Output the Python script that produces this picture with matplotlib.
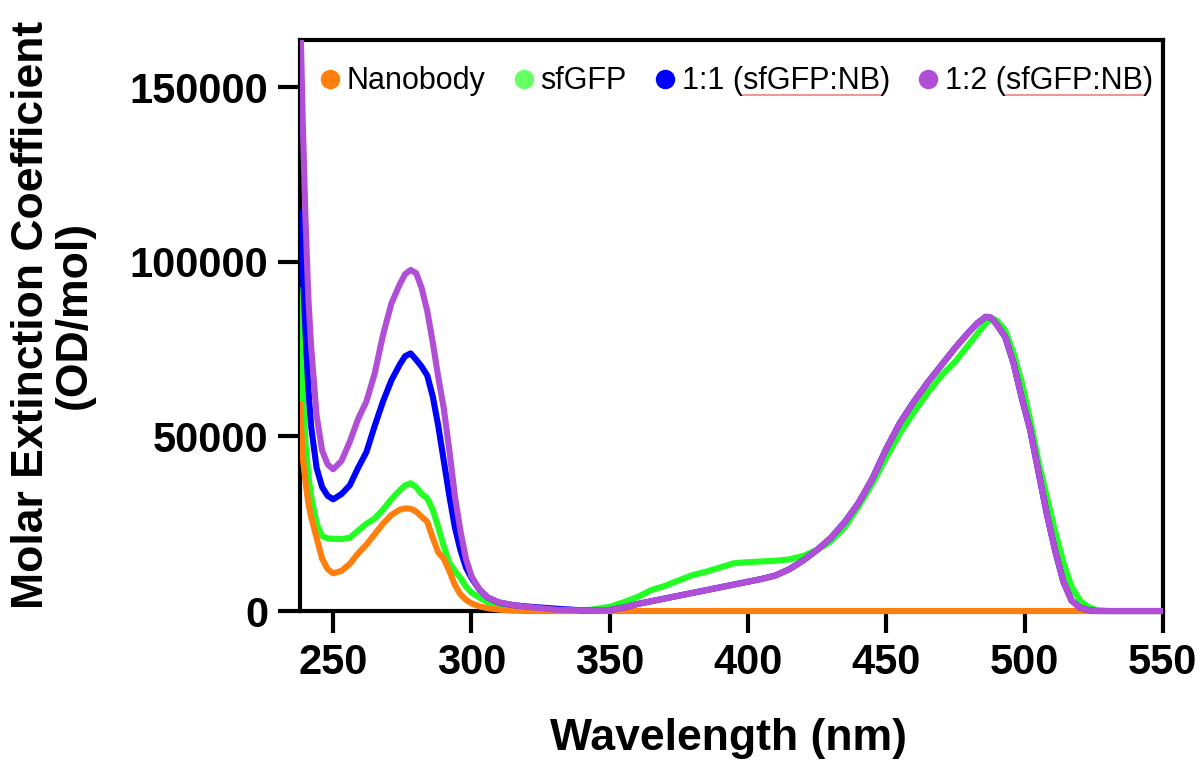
import numpy as np
import matplotlib
matplotlib.use('Agg')
import matplotlib.pyplot as plt
from matplotlib.lines import Line2D
from matplotlib.patches import Rectangle

plt.rcParams['font.family'] = ['Liberation Sans', 'DejaVu Sans']

# wavelength grid (nm)
wavelength = [238, 239, 240, 241, 242, 244, 246, 248, 250, 253, 256, 259, 262, 265, 268,
              271, 274, 276, 278, 280, 282, 284, 286, 288, 290, 292, 294, 296, 298, 300,
              303, 306, 310, 315, 320, 325, 330, 340, 350, 355, 360, 365, 370, 375, 380,
              385, 390, 395, 400, 405, 410, 415, 420, 425, 430, 435, 440, 445, 450, 455,
              460, 465, 470, 475, 480, 483, 486, 488, 490, 493, 496, 499, 502, 505, 508,
              511, 514, 517, 520, 523, 526, 530, 540, 550]

nanobody = [59000, 44000, 37000, 31000, 27000, 21000, 15000, 12000, 10800, 11500, 13500, 16500, 19000, 22000, 25000,
            27500, 29000, 29400, 29300, 28500, 27000, 25600, 21000, 16800, 15000, 11500, 7500, 4800, 3200, 2200,
            1300, 800, 400, 100, 0, 0, 0, 0, 0, 0, 0, 0, 0, 0, 0,
            0, 0, 0, 0, 0, 0, 0, 0, 0, 0, 0, 0, 0, 0, 0,
            0, 0, 0, 0, 0, 0, 0, 0, 0, 0, 0, 0, 0, 0, 0,
            0, 0, 0, 0, 0, 0, 0, 0, 0]

sfgfp = [92000, 62000, 48000, 39000, 33000, 25000, 21500, 20800, 20700, 20600, 21000, 23000, 25000, 26500, 29000,
         32000, 34500, 36000, 36600, 35500, 33500, 32300, 29000, 24000, 18500, 13800, 11500, 9500, 7000, 5300,
         3800, 2500, 1500, 600, 300, 100, 0, 0, 1200, 2500, 4000, 6000, 7200, 8800, 10300,
         11300, 12500, 13700, 14000, 14200, 14400, 14800, 15800, 17500, 20000, 24000, 30000, 36500, 44000, 51000,
         57000, 62500, 67500, 71500, 76500, 79500, 82500, 83800, 83200, 80500, 74000, 65500, 55000, 43000, 33000,
         23000, 14000, 7000, 3000, 1200, 300, 0, 0, 0]

nb_1to1 = [114000, 98000, 80000, 64000, 53000, 41000, 35500, 33000, 32000, 33500, 36000, 41000, 45500, 53000, 60000,
           66000, 70500, 73000, 73800, 72000, 70000, 67500, 61500, 53000, 43000, 33000, 24000, 17500, 12500, 9500,
           6000, 3800, 2400, 1700, 1300, 1000, 700, 200, 300, 1000, 2000, 2800, 3600, 4400, 5200,
           6000, 6800, 7600, 8400, 9200, 10200, 12000, 14500, 17500, 21000, 25500, 31000, 38000, 46500, 54000,
           60000, 65500, 70500, 75500, 80000, 82500, 84300, 84000, 82000, 78500, 71000, 61000, 52000, 40000, 28000,
           17500, 8500, 3000, 1000, 300, 0, 0, 0, 0]

nb_1to2 = [175000, 140000, 112000, 90000, 76000, 56000, 46000, 42000, 40600, 43000, 48500, 55000, 60000, 68000, 79000,
           88000, 93500, 96500, 97700, 96800, 92500, 86000, 77000, 67000, 58000, 46000, 33000, 23000, 15000, 10000,
           6000, 3800, 2500, 1700, 1200, 800, 400, 200, 300, 1000, 2000, 2800, 3600, 4400, 5200,
           6000, 6800, 7600, 8400, 9200, 10200, 12000, 14500, 17500, 21000, 25500, 31000, 38000, 46500, 54000,
           60000, 65500, 70500, 75500, 80000, 82500, 84300, 84000, 82000, 78500, 71000, 61000, 52000, 40000, 28000,
           17500, 8500, 3000, 1000, 300, 0, 0, 0, 0]

labels = ['Nanobody', 'sfGFP', '1:1 (sfGFP:NB)', '1:2 (sfGFP:NB)']
colors = ['#FF7F0E', '#22FF22', '#0000FF', '#B04FD6']
legend_colors = ['#FF7F0E', '#66FF66', '#0000FF', '#B04FD6']

fig = plt.figure(figsize=(12, 7.68), dpi=100)
ax = fig.add_axes([0.25, 0.2044, 0.719, 0.7436])

clip = Rectangle((0, -0.02), 1, 1.02, transform=ax.transAxes, visible=False)
ax.add_patch(clip)

# drawing order: sfGFP, nanobody, 1:1, 1:2 on top
series = [sfgfp, nanobody, nb_1to1, nb_1to2]
order = [1, 0, 2, 3]
for s, i in zip(series, order):
    ln, = ax.plot(wavelength, s, color=colors[i], lw=4.4, zorder=3)
    ln.set_clip_path(clip)

ax.set_xlim(238, 550)
ax.set_ylim(0, 163600)
ax.set_xticks([250, 300, 350, 400, 450, 500, 550])
ax.set_yticks([0, 50000, 100000, 150000])

for sp in ax.spines.values():
    sp.set_linewidth(3)
ax.tick_params(width=3, length=16, pad=7, labelsize=30)
for t in ax.get_xticklabels() + ax.get_yticklabels():
    t.set_fontweight('bold')

fig.text(0.607, 0.039, 'Wavelength (nm)', ha='center', va='center',
         fontsize=32, fontweight='bold')
fig.text(0.044, 0.59, 'Molar Extinction Coefficient\n(OD/mol)', ha='center', va='center',
         rotation=90, fontsize=32, fontweight='bold', multialignment='center', linespacing=1.05)

handles = [Line2D([], [], marker='o', ls='', color=c, markersize=13) for c in legend_colors]
leg = ax.legend(handles, labels, loc='upper left', bbox_to_anchor=(0.01, 0.975), ncol=4, frameon=False,
                fontsize=22, handlelength=0.6, handletextpad=0.25, columnspacing=0.95, borderaxespad=0)

# faint red spell-check underline under "sfGFP:NB" in the legend
fig.canvas.draw()
r = fig.canvas.get_renderer()
for t in leg.get_texts()[2:]:
    bb = t.get_window_extent(r)
    tmp = fig.text(0, 0, '1:1 (', fontsize=22)
    w0 = tmp.get_window_extent(r).width
    tmp.set_text(')')
    w1 = tmp.get_window_extent(r).width
    tmp.remove()
    x0 = (bb.x0 + w0) / fig.bbox.width
    x1 = (bb.x1 - w1) / fig.bbox.width
    yy = (bb.y0 + 1) / fig.bbox.height
    fig.add_artist(Line2D([x0, x1], [yy, yy], color='#F08080', lw=1.2, transform=fig.transFigure))

fig.savefig('out.png', dpi=100)
